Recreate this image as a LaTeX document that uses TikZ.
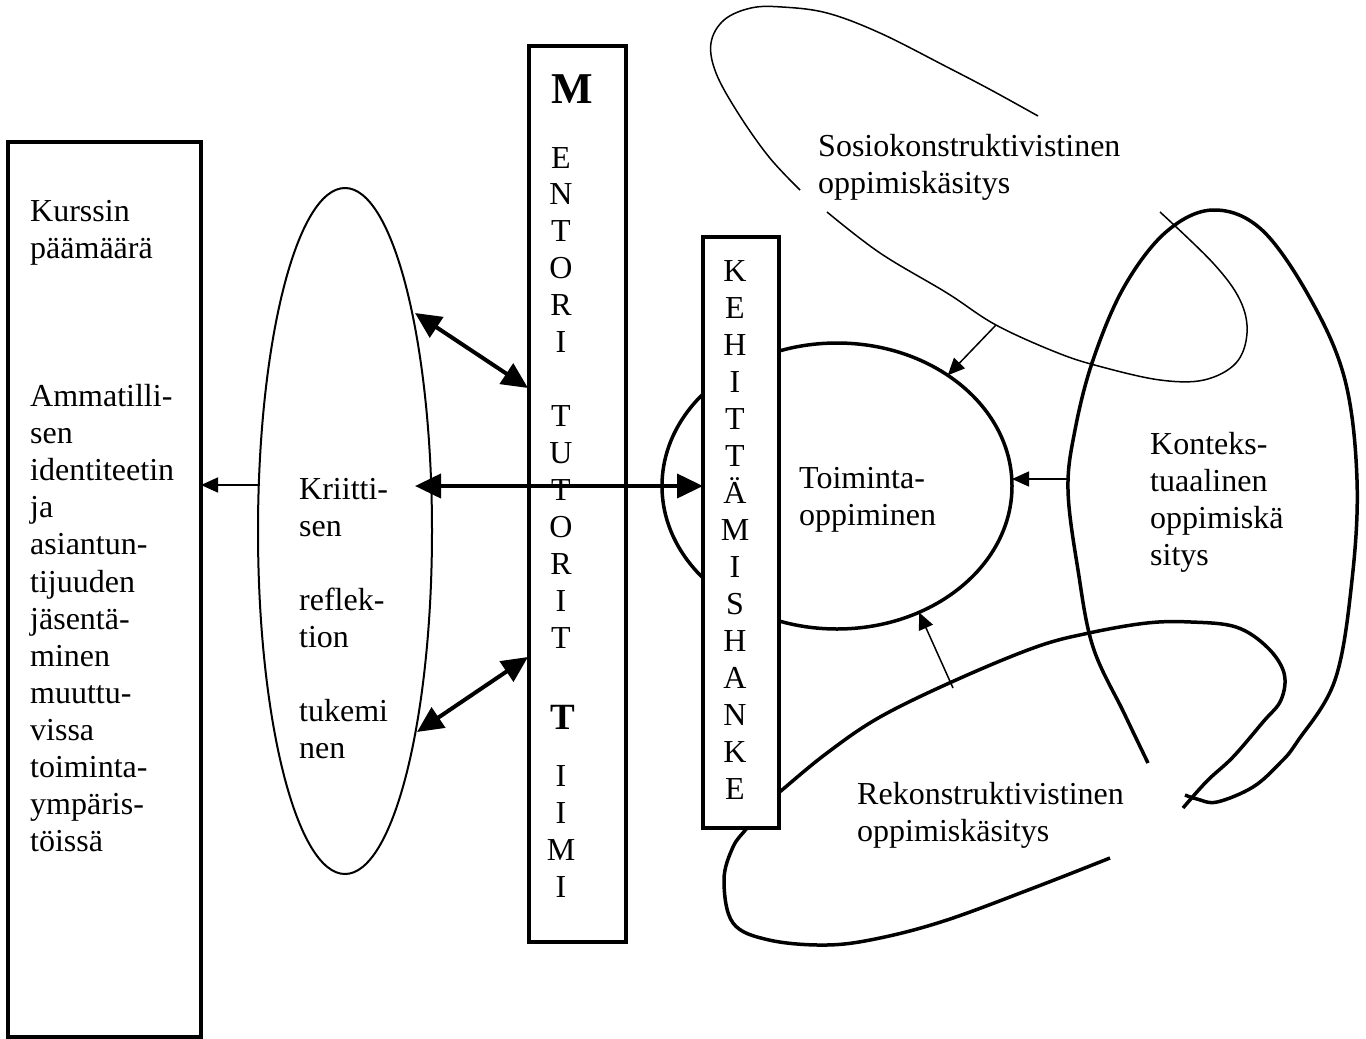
\documentclass[tikz,border=0pt]{standalone}
\usepackage{fontspec}
\setmainfont{Liberation Serif}
\usetikzlibrary{shapes.geometric,arrows.meta}
\newcommand\bodytxt{\fontsize{32}{37.1}\selectfont}
\tikzset{
  thinline/.style={line width=1.5pt},
  thickline/.style={line width=3.5pt},
  framebox/.style={draw, line width=3.5pt, fill=white, inner sep=0pt, outer sep=0pt},
  oval/.style={draw, ellipse, inner sep=0pt, outer sep=0pt},
  % multi-line labels are placed by the baseline of their last line
  label/.style={anchor=base west, align=left, inner sep=0pt, font=\bodytxt},
  letter/.style={anchor=base, inner sep=0pt, font=\bodytxt},
  bigarrow/.style={line width=4pt, {Triangle[length=26pt,width=24pt]}-{Triangle[length=26pt,width=24pt]}},
  smallarrow/.style={line width=1.5pt, -{Triangle[length=17pt,width=15pt]}},
}
\begin{document}
\begin{tikzpicture}[x=1pt,y=-1pt]
\useasboundingbox (0,0) rectangle (1366,1039);
\fill[white] (0,0) rectangle (1366,1039);

% socio-constructivist loop (two open strokes around its label)
\draw[thinline] plot[smooth, tension=0.6] coordinates {(800,190) (769,157) (738,113) (716,73) (711,43) (724,20) (751,8) (782,7) (827,13) (880,33) (947,67) (991,90) (1038,116)};
\draw[thinline] plot[smooth, tension=0.6] coordinates {(827,212) (880,253) (947,293) (996,325) (1058,353) (1102,367) (1160,380) (1204,380) (1236,363) (1247,333) (1240,300) (1213,263) (1160,212)};
\coordinate (sosioFoot) at (996,325);

% contextual loop
\draw[thickline] plot[smooth, tension=0.6] coordinates {(1148,763) (1124,713) (1093,647) (1078,570) (1068,490) (1075,430) (1093,360) (1124,287) (1166,232) (1213,210) (1262,230) (1311,300) (1345,380) (1357,480) (1352,580) (1335,680) (1297,742) (1280,763) (1253,787) (1217,802) (1197,799) (1185,795)};
\coordinate (kontFoot) at (1069,479);

% reconstructive loop
\draw[thickline] plot[smooth, tension=0.6] coordinates {(1110,858) (1036,887) (947,920) (880,938) (827,945) (769,940) (733,923) (724,880) (733,847) (747,828) (765,805) (782,790) (827,753) (880,717) (956,680) (1036,647) (1089,633) (1147,623) (1191,622) (1236,627) (1267,647) (1284,673) (1281,700) (1263,722) (1233,757) (1207,781) (1183,808)};
\coordinate (rekFoot) at (953,688);

% central ellipses
\node[oval, line width=3.5pt, minimum width=350pt, minimum height=286pt] (toim) at (837,486) {};
\node[oval, line width=2pt, minimum width=174pt, minimum height=686pt] (refl) at (345,531) {};

% boxes
\node[framebox, minimum width=193pt, minimum height=895pt] (goal) at (104.5,589.5) {};
\node[framebox, minimum width=97pt, minimum height=896pt] (mentor) at (577.5,494) {};
\node[framebox, minimum width=76pt, minimum height=591pt] (kehit) at (741,532.5) {};

% texts
\node[label] (goaltxt) at (30,851.7) {Kurssin\\päämäärä\\[111.3pt]Ammatilli-\\sen\\identiteetin\\ja\\asiantun-\\tijuuden\\jäsentä-\\minen\\muuttu-\\vissa\\toiminta-\\ympäris-\\töissä};
\node[label] (refltxt) at (299,758.7) {Kriitti-\\sen\\[37.1pt]reflek-\\tion\\[37.1pt]tukemi\\nen};
\node[label] (toimtxt) at (799,525.1) {Toiminta-\\oppiminen};
\node[label] (konttxt) at (1150,565.3) {Konteks-\\tuaalinen\\oppimiskä\\sitys};
\node[label] (sosiotxt) at (818,193.1) {Sosiokonstruktivistinen\\oppimiskäsitys};
\node[label] (rektxt) at (857,841.1) {Rekonstruktivistinen\\oppimiskäsitys};

% vertical lettering of the mentor column
\node[letter, font=\fontsize{44}{44}\selectfont\bfseries] (mBig) at (572,103) {M};
\foreach \ch/\yy [count=\i] in {E/158,N/194,T/231,O/268,R/305,I/342,T/416,U/453,T/490,O/527,R/564,I/601,T/638,I/776,I/813,M/850,I/887}
  \node[letter] (m\i) at (561,\yy+10.6) {\ch};
\node[letter, font=\fontsize{37}{37}\selectfont\bfseries] (mT) at (563,729.5) {T};

% vertical lettering of the development project column
\foreach \ch [count=\i from 0] in {K,E,H,I,T,T,Ä,M,I,S,H,A,N,K,E}
  \node[letter] (k\i) at (735,281+37.07*\i) {\ch};

% connectors
\coordinate (reflTop) at (415,313);
\coordinate (reflMid) at (415,486);
\coordinate (reflLow) at (417,732);
\coordinate (reflOut) at (259,485);
\coordinate (mentUp) at (528,388);
\coordinate (mentLow) at (528,657);
\draw[bigarrow] (reflTop) -- (mentUp);
\draw[bigarrow] (reflLow) -- (mentLow);
\draw[bigarrow] (reflMid) -- (kehit.west |- reflMid);
\draw[smallarrow] (reflOut) -- (goal.east |- reflOut);
\draw[smallarrow] (kontFoot) -- (toim.east |- kontFoot);
\draw[smallarrow] (sosioFoot) -- (toim.45);
\draw[smallarrow] (rekFoot) -- (toim.-57);
\end{tikzpicture}
\end{document}
